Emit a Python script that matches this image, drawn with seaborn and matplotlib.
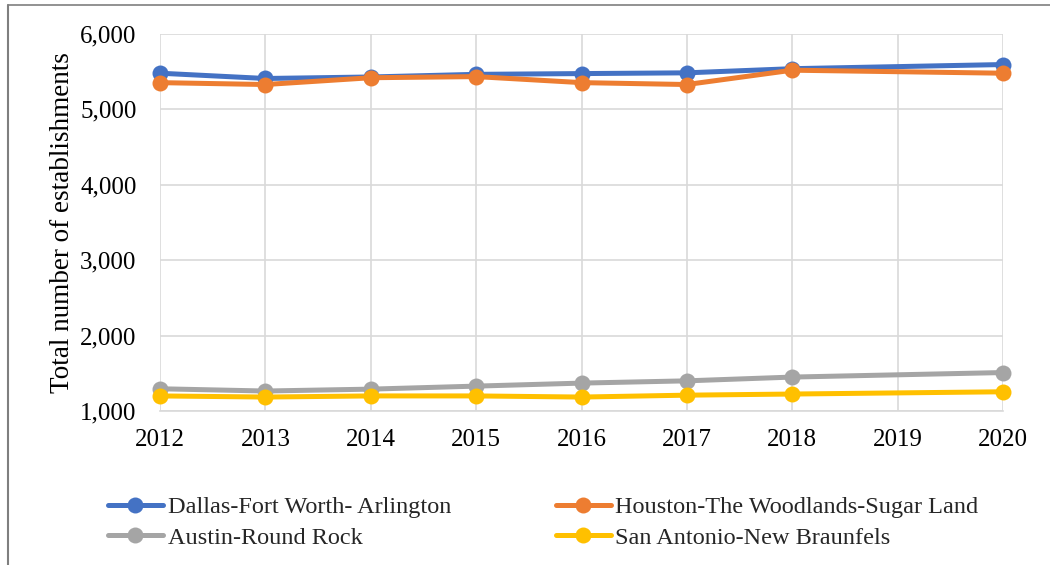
import matplotlib
matplotlib.use("Agg")
import matplotlib.pyplot as plt
from matplotlib.lines import Line2D
from matplotlib.ticker import FuncFormatter
import seaborn as sns
import pandas as pd

# Establishment counts by metro area (no 2019 figures reported)
years = [2012, 2013, 2014, 2015, 2016, 2017, 2018, 2020]
metros = [
    "Dallas-Fort Worth- Arlington",
    "Houston-The Woodlands-Sugar Land",
    "Austin-Round Rock",
    "San Antonio-New Braunfels",
]
dallas = [5480, 5410, 5430, 5465, 5475, 5485, 5540, 5595]
houston = [5355, 5330, 5420, 5435, 5355, 5330, 5520, 5480]
austin = [1295, 1265, 1290, 1330, 1370, 1400, 1450, 1510]
san_antonio = [1200, 1185, 1200, 1200, 1185, 1210, 1225, 1255]
tick_years = list(range(2012, 2021))
colors = ["#4472C4", "#ED7D31", "#A5A5A5", "#FFC000"]

rows = []
for name, vals in zip(metros, [dallas, houston, austin, san_antonio]):
    for yr, v in zip(years, vals):
        rows.append({"year": yr, "value": v, "metro": name})
df = pd.DataFrame(rows)

sns.set_theme(style="white")
plt.rcParams["font.family"] = ["Liberation Serif", "DejaVu Serif"]

fig = plt.figure(figsize=(10.5, 5.65), dpi=100)
ax = fig.add_axes([160 / 1050, 1 - 411 / 565, (1003 - 160) / 1050, (411 - 34) / 565])

sns.lineplot(
    data=df, x="year", y="value", hue="metro", hue_order=metros,
    palette=colors, marker="o", markersize=11.5, markeredgewidth=0,
    linewidth=3.6, errorbar=None, legend=False, ax=ax,
)
for ln in ax.lines:
    ln.set_clip_on(False)
    ln.set_solid_capstyle("round")

ax.set_xlim(2012, 2020)
ax.set_ylim(1000, 6000)
ax.set_xticks(tick_years)
ax.set_yticks(range(1000, 6001, 1000))
ax.yaxis.set_major_formatter(FuncFormatter(lambda v, p: f"{int(v):,}"))
ax.grid(True, color="#D9D9D9", linewidth=1.2)
ax.set_axisbelow(True)
for side in ["top", "right", "left"]:
    ax.spines[side].set_visible(False)
ax.spines["bottom"].set_color("#D9D9D9")
ax.spines["bottom"].set_linewidth(1.2)
ax.tick_params(axis="both", length=0, labelsize=18, colors="black")
ax.tick_params(axis="y", pad=17)
ax.tick_params(axis="x", pad=13)
ax.set_xlabel("")
ax.set_ylabel("Total number of establishments", fontsize=19.5, color="black")
ax.yaxis.set_label_coords(-0.101, 0.5)

# Legend in two columns beneath the chart
h = {m: ln for m, ln in zip(metros, ax.lines)}
order = [metros[0], metros[2], metros[1], metros[3]]
fig.legend(
    [h[m] for m in order], order, ncol=2, loc="upper left",
    bbox_to_anchor=(108 / 1050, 1 - 496 / 565), frameon=False,
    fontsize=17.5, handlelength=2.26, handletextpad=0.2,
    columnspacing=4.3, labelspacing=0.36, borderpad=0, borderaxespad=0,
)

# Outer chart border
fig.add_artist(Line2D([8 / 1050, 8 / 1050], [0, 1 - 5 / 565], color="#7F7F7F", linewidth=1.5))
fig.add_artist(Line2D([8 / 1050, 1], [1 - 5 / 565, 1 - 5 / 565], color="#7F7F7F", linewidth=1.2))

fig.savefig("out.png", dpi=100)
